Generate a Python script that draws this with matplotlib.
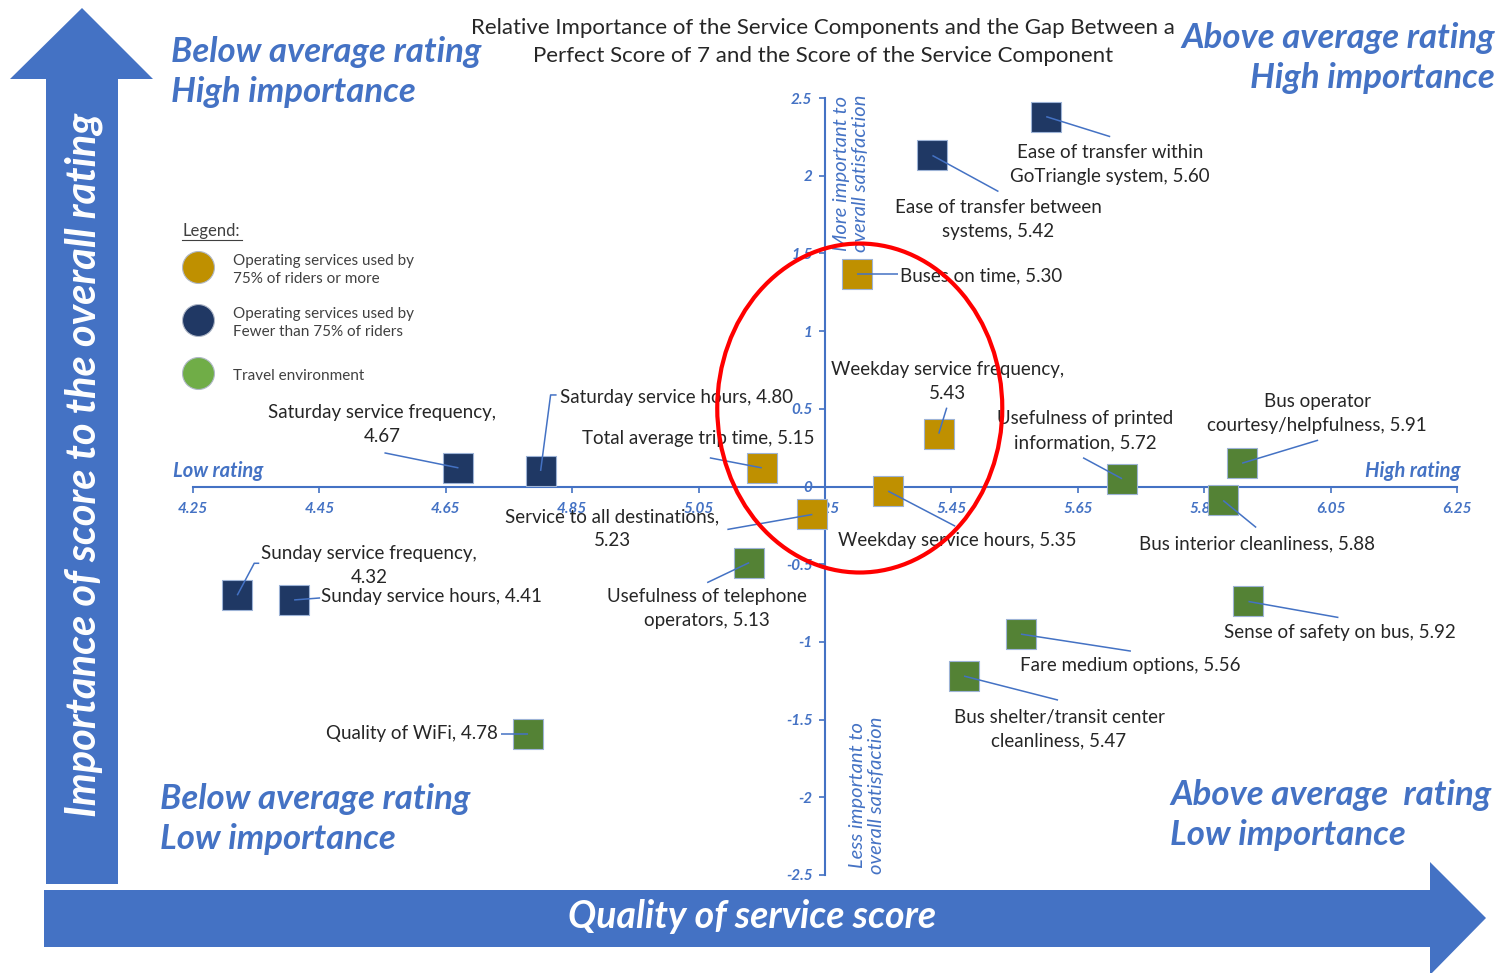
import numpy as np
import matplotlib
matplotlib.use("Agg")
import matplotlib.pyplot as plt
from matplotlib.patches import Polygon, Ellipse

plt.rcParams['font.family'] = ['Lato', 'DejaVu Sans']

# ---- data: (rating score, importance gap) ----
names = ["Ease of transfer within\nGoTriangle system, 5.60",
         "Ease of transfer between\nsystems, 5.42",
         "Buses on time, 5.30",
         "Weekday service frequency,\n5.43",
         "Usefulness of printed\ninformation, 5.72",
         "Bus operator\ncourtesy/helpfulness, 5.91",
         "Bus interior cleanliness, 5.88",
         "Sense of safety on bus, 5.92",
         "Fare medium options, 5.56",
         "Bus shelter/transit center\ncleanliness, 5.47",
         "Weekday service hours, 5.35",
         "Service to all destinations,\n5.23",
         "Total average trip time, 5.15",
         "Usefulness of telephone\noperators, 5.13",
         "Saturday service hours, 4.80",
         "Saturday service frequency,\n4.67",
         "Sunday service frequency,\n4.32",
         "Sunday service hours, 4.41",
         "Quality of WiFi, 4.78"]
rating = [5.60, 5.42, 5.30, 5.43, 5.72, 5.91, 5.88, 5.92, 5.56, 5.47,
          5.35, 5.23, 5.15, 5.13, 4.80, 4.67, 4.32, 4.41, 4.78]
importance = [2.38, 2.13, 1.37, 0.34, 0.05, 0.15, -0.09, -0.74, -0.95, -1.22,
              -0.03, -0.18, 0.12, -0.49, 0.10, 0.12, -0.70, -0.73, -1.59]
group = ["few", "few", "most", "most", "env", "env", "env", "env", "env", "env",
         "most", "most", "most", "env", "few", "few", "few", "few", "env"]

xticks = [4.25, 4.45, 4.65, 4.85, 5.05, 5.25, 5.45, 5.65, 5.85, 6.05, 6.25]
yticks = [-2.5, -2, -1.5, -1, -0.5, 0, 0.5, 1, 1.5, 2, 2.5]
ytick_labels = ["-2.5", "-2", "-1.5", "-1", "-0.5", "0", "0.5", "1", "1.5", "2", "2.5"]

colors = {"most": "#BF9000", "few": "#1F3864", "env": "#548235"}
legend_colors = {"most": "#BF9000", "few": "#203864", "env": "#70AD47"}
legend_text = {"most": "Operating services used by\n75% of riders or more",
               "few": "Operating services used by\nFewer than 75% of riders",
               "env": "Travel environment"}

# label placement: text offset (px), alignment, leader path (px offsets from marker)
label_pos = [((64, -48), "center", [(64, -20)]),
             ((66, -64), "center", [(66, -36)]),
             ((43, -2), "left", [(41, 0)]),
             ((9, 52), "center", [(8, 26)]),
             ((-37, 48), "center", [(-39, 21)]),
             ((75, 50), "center", [(76, 23)]),
             ((34, -43), "center", [(33, -27)]),
             ((91, -31), "center", [(90, -16)]),
             ((109, -31), "center", [(110, -17)]),
             ((95, -53), "center", [(94, -24)]),
             ((69, -49), "center", [(67, -35)]),
             ((-200, -14), "center", [(-85, -15)]),
             ((-64, 29), "center", [(-52, 10)]),
             ((-42, -46), "center", [(-42, -20)]),
             ((19, 73), "left", [(10, 76), (16, 76)]),
             ((-76, 43), "center", [(-74, 15)]),
             ((132, 30), "center", [(17, 32), (22, 32)]),
             ((27, 3), "left", [(26, 2)]),
             ((-30, 0), "right", [(-27, 0)])]

BLUE = "#4472C4"
TXT = "#262626"
W, H = 1501, 973


def fx(px):
    return px / W


def fy(py):
    return (H - py) / H


fig = plt.figure(figsize=(15.01, 9.73), dpi=100)
ax = fig.add_axes([0, 0, 1, 1])
# 4.25 -> px 193, 6.25 -> px 1457 ; y=0 -> px 486.5
ppx = 632.0
ppy = 155.4
ax.set_xlim(4.25 - 193 / ppx, 4.25 + (W - 193) / ppx)
ax.set_ylim(-(H - 486.5) / ppy, 486.5 / ppy)

# big arrows
up = Polygon([(fx(46), fy(884)), (fx(118), fy(884)), (fx(118), fy(79)), (fx(153), fy(79)),
              (fx(82), fy(8)), (fx(10), fy(79)), (fx(46), fy(79))],
             closed=True, transform=fig.transFigure, facecolor=BLUE, edgecolor="none", zorder=0)
right = Polygon([(fx(44), fy(890)), (fx(1430), fy(890)), (fx(1430), fy(862)), (fx(1486), fy(918)),
                 (fx(1430), fy(975)), (fx(1430), fy(947)), (fx(44), fy(947))],
                closed=True, transform=fig.transFigure, facecolor=BLUE, edgecolor="none", zorder=0)
fig.patches.extend([up, right])
fig.text(fx(84), fy(465), "Importance of score to the overall rating", rotation=90,
         ha="center", va="center", color="white", fontsize=30, fontweight="bold", style="italic")
fig.text(fx(752), fy(917), "Quality of service score", ha="center", va="center",
         color="white", fontsize=27, fontweight="bold", style="italic")

# axes through the middle
for s in ["top", "right"]:
    ax.spines[s].set_visible(False)
ax.spines["bottom"].set_position(("data", 0))
ax.spines["bottom"].set_bounds(4.25, 6.25)
ax.spines["left"].set_position(("data", 5.25))
ax.spines["left"].set_bounds(-2.5, 2.5)
for s in ["bottom", "left"]:
    ax.spines[s].set_color(BLUE)
    ax.spines[s].set_linewidth(1.5)
ax.set_xticks(xticks)
ax.set_xticklabels([f"{v:.2f}" for v in xticks])
ax.set_yticks(yticks)
ax.set_yticklabels(ytick_labels)
ax.tick_params(axis="x", direction="out", length=4, width=1.2, color=BLUE, labelcolor=BLUE, pad=7)
ax.tick_params(axis="y", direction="out", length=4, width=1.2, color=BLUE, labelcolor=BLUE, pad=5)
for t in ax.get_xticklabels() + ax.get_yticklabels():
    t.set_fontsize(11)
    t.set_fontweight("bold")
    t.set_style("italic")

# points
for g in ["most", "few", "env"]:
    idx = [i for i, v in enumerate(group) if v == g]
    ax.scatter([rating[i] for i in idx], [importance[i] for i in idx], marker="s", s=440,
               color=colors[g], edgecolors="#9DB3D6", linewidths=0.8, zorder=3)

# labels and leader lines (leader offsets given in pixels, converted with the axis scale)
for i, name in enumerate(names):
    (tx, ty), ha, path = label_pos[i]
    lx = [rating[i]] + [rating[i] + p[0] / ppx for p in path]
    ly = [importance[i]] + [importance[i] + p[1] / ppy for p in path]
    ax.plot(lx, ly, color=BLUE, lw=1.1, zorder=4, solid_capstyle="butt")
    ax.annotate(name, xy=(rating[i], importance[i]), xytext=(tx, ty), textcoords="offset pixels",
                ha=ha, va="center", multialignment=ha, fontsize=13.5, color=TXT,
                linespacing=1.5, zorder=5)

# red ellipse around the middle
ax.add_patch(Ellipse((5.305, 0.505), 0.451, 2.117, fill=False, edgecolor="#FF0000", lw=3, zorder=6))

# axis end captions
ax.text(fx(173), fy(471), "Low rating", transform=fig.transFigure, ha="left", va="center",
        color=BLUE, fontsize=14.5, fontweight="bold", style="italic")
ax.text(fx(1461), fy(471), "High rating", transform=fig.transFigure, ha="right", va="center",
        color=BLUE, fontsize=14.5, fontweight="bold", style="italic")
ax.text(fx(851), fy(173), "More important to\noverall satisfaction", transform=fig.transFigure,
        rotation=90, ha="center", va="center", color=BLUE, fontsize=14.5, style="italic",
        linespacing=1.2)
ax.text(fx(867), fy(795), "Less important to\noverall satisfaction", transform=fig.transFigure,
        rotation=90, ha="center", va="center", color=BLUE, fontsize=14.5, style="italic",
        linespacing=1.2)

# quadrant captions
qkw = dict(transform=fig.transFigure, color=BLUE, fontsize=25, fontweight="bold", style="italic",
           va="center", linespacing=1.32)
ax.text(fx(171), fy(72), "Below average rating\nHigh importance", ha="left", **qkw)
ax.text(fx(1495), fy(58), "Above average rating\nHigh importance", ha="right", multialignment="right", **qkw)
ax.text(fx(160), fy(819), "Below average rating\nLow importance", ha="left", **qkw)
ax.text(fx(1170), fy(815), "Above average  rating\nLow importance", ha="left", **qkw)

# title
ax.text(fx(823), fy(42), "Relative Importance of the Service Components and the Gap Between a\n"
        "Perfect Score of 7 and the Score of the Service Component", transform=fig.transFigure,
        ha="center", va="center", fontsize=16, color=TXT, linespacing=1.5)

# legend block
ax.text(fx(182), fy(231), "Legend:", transform=fig.transFigure, ha="left", va="center",
        fontsize=12, color="#404040")
ax.plot([fx(182), fx(242)], [fy(240), fy(240)], transform=fig.transFigure, color="#404040", lw=0.8)
for k, py in zip(["most", "few", "env"], [267, 320, 373]):
    ax.plot([fx(198)], [fy(py)], "o", transform=fig.transFigure, ms=23, color=legend_colors[k],
            mec="#B0B8C8", mew=0.8)
    ax.text(fx(233), fy(py + 3), legend_text[k], transform=fig.transFigure, ha="left", va="center",
            fontsize=11, color="#404040", linespacing=1.45)

fig.savefig("out.png", dpi=100)
